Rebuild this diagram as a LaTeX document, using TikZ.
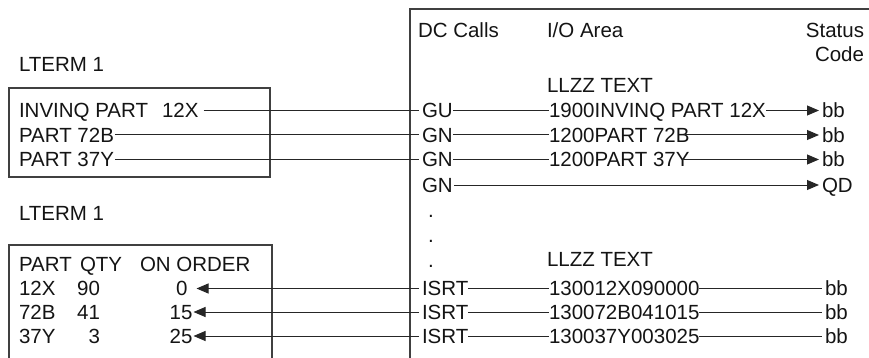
\documentclass[tikz,border=0pt]{standalone}
\usepackage{fontspec}
\setmainfont{Liberation Sans}
\usetikzlibrary{arrows.meta}
\begin{document}
\begin{tikzpicture}[x=1pt,y=-1pt,
  txt/.style={inner sep=0pt, outer sep=0pt, text height=14.7pt, text depth=0pt,
              font=\fontsize{20.5}{24}\selectfont, text=black!92},
  ln/.style={line width=1pt, draw=black!85},
  arr/.style={ln, -{Triangle[length=12pt,width=10pt]}},
  frame/.style={line width=1.1pt, draw=black!75}]
\useasboundingbox (0,0) rectangle (869,358);

% frames
\draw[frame] (9,88) rectangle (270,177);
\draw[frame] (9,358) -- (9,245) -- (272,245) -- (272,358);
\draw[frame] (410,358) -- (410,9) -- (869,9);

% headings
\node[txt, anchor=west] (hdc) at (418,30) {DC Calls};
\node[txt, anchor=west] (hio) at (547,30) {I/O Area};
\node[txt, anchor=east] (hst) at (864,30) {Status};
\node[txt, anchor=east] (hcd) at (864,54) {Code};
\node[txt, anchor=west] (ll1) at (547,85) {LLZZ TEXT};

% upper left terminal
\node[txt, anchor=west] (lt1) at (19,64) {LTERM 1};
\node[txt, anchor=west] (in1) at (19,110.5) {INVINQ PART\hspace{14pt}12X};
\node[txt, anchor=west] (in2) at (19,135) {PART 72B};
\node[txt, anchor=west] (in3) at (19,159.5) {PART 37Y};

% calls
\node[txt, anchor=west] (c1) at (422,110.5) {GU};
\node[txt, anchor=west] (c2) at (422,135) {GN};
\node[txt, anchor=west] (c3) at (422,159.5) {GN};
\node[txt, anchor=west] (c4) at (422,185) {GN};

% io areas
\node[txt, anchor=west] (d1) at (549,110.5) {1900INVINQ PART 12X};
\node[txt, anchor=west] (d2) at (549,135) {1200PART 72B};
\node[txt, anchor=west] (d3) at (549,159.5) {1200PART 37Y};

% status
\node[txt, anchor=west] (s1) at (822,110.5) {bb};
\node[txt, anchor=west] (s2) at (822,135) {bb};
\node[txt, anchor=west] (s3) at (822,159.5) {bb};
\node[txt, anchor=west] (s4) at (822,185) {QD};

% dots
\node[txt, anchor=base west] (p1) at (428,217) {.};
\node[txt, anchor=base west] (p2) at (428,242) {.};
\node[txt, anchor=base west] (p3) at (428,267) {.};

% lower right
\node[txt, anchor=west] (ll2) at (547,259.5) {LLZZ TEXT};
\node[txt, anchor=west] (i1) at (422,288.5) {ISRT};
\node[txt, anchor=west] (i2) at (422,312) {ISRT};
\node[txt, anchor=west] (i3) at (422,336) {ISRT};
\node[txt, anchor=west] (e1) at (549,288.5) {130012X090000};
\node[txt, anchor=west] (e2) at (549,312) {130072B041015};
\node[txt, anchor=west] (e3) at (549,336) {130037Y003025};
\node[txt, anchor=west] (t1) at (825,288.5) {bb};
\node[txt, anchor=west] (t2) at (825,312) {bb};
\node[txt, anchor=west] (t3) at (825,336) {bb};

% lower left terminal
\node[txt, anchor=west] (lt2) at (19,213) {LTERM 1};
\node[txt, anchor=west] (hpa) at (19,264.5) {PART};
\node[txt, anchor=west] (hqt) at (80,264.5) {QTY};
\node[txt, anchor=west] (hoo) at (140,264.5) {ON ORDER};
\node[txt, anchor=west] (r1a) at (19,288.5) {12X};
\node[txt, anchor=east] (r1b) at (100,288.5) {90};
\node[txt, anchor=east] (r1c) at (187.5,288.5) {0};
\node[txt, anchor=west] (r2a) at (19,312) {72B};
\node[txt, anchor=east] (r2b) at (100,312) {41};
\node[txt, anchor=east] (r2c) at (192.5,312) {15};
\node[txt, anchor=west] (r3a) at (19,336) {37Y};
\node[txt, anchor=east] (r3b) at (100,336) {3};
\node[txt, anchor=east] (r3c) at (192.5,336) {25};

% connectors upper
\draw[ln, shorten <=5pt, shorten >=3pt] (in1.east) -- (c1.west);
\draw[ln, shorten <=1pt, shorten >=3pt] (in2.east) -- (c2.west);
\draw[ln, shorten <=1pt, shorten >=3pt] (in3.east) -- (c3.west);
\draw[ln] (c1.east) -- (d1.west);
\draw[ln] (c2.east) -- (d2.west);
\draw[ln] (c3.east) -- (d3.west);
\draw[arr, shorten >=3pt] (d1.east) -- (s1.west);
\draw[arr, shorten <=-6pt, shorten >=3pt] (d2.east) -- (s2.west);
\draw[arr, shorten <=-6pt, shorten >=3pt] (d3.east) -- (s3.west);
\draw[arr, shorten <=1pt, shorten >=3pt] (c4.east) -- (s4.west);

% connectors lower
\draw[arr, shorten <=3pt, shorten >=9pt] (i1.west) -- (r1c.east);
\draw[arr, shorten <=3pt, shorten >=1pt] (i2.west) -- (r2c.east);
\draw[arr, shorten <=3pt, shorten >=1pt] (i3.west) -- (r3c.east);
\draw[ln] (i1.east) -- (e1.west);
\draw[ln] (i2.east) -- (e2.west);
\draw[ln] (i3.east) -- (e3.west);
\draw[ln, shorten >=3pt] (e1.east) -- (t1.west);
\draw[ln, shorten >=3pt] (e2.east) -- (t2.west);
\draw[ln, shorten >=3pt] (e3.east) -- (t3.west);
\end{tikzpicture}
\end{document}
